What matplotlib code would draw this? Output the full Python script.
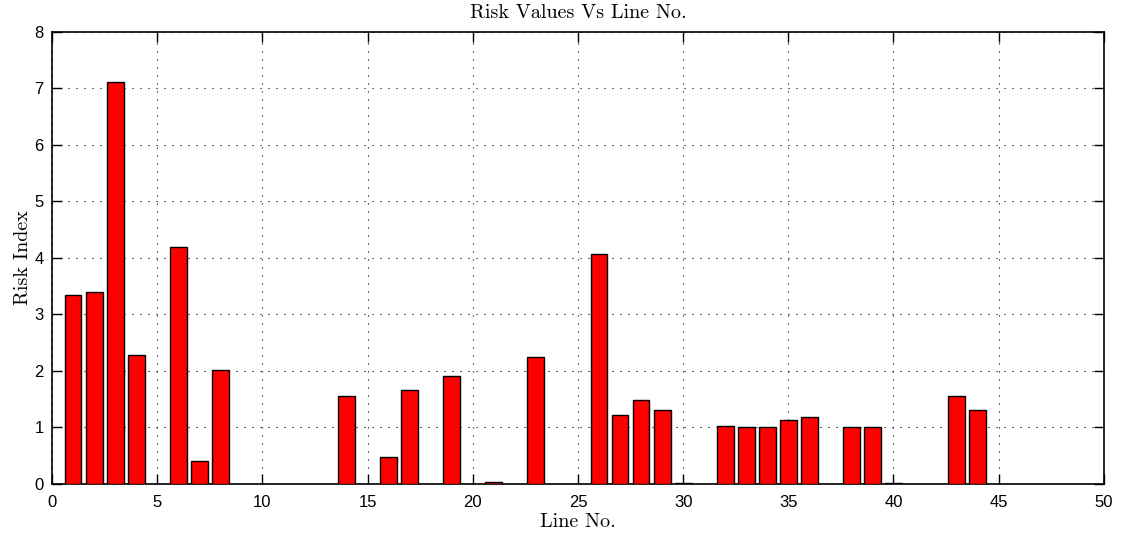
import numpy as np
import matplotlib
matplotlib.use("Agg")
import matplotlib.pyplot as plt

# line numbers and their risk index
line_no = [1, 2, 3, 4, 6, 7, 8, 14, 16, 17, 19, 21, 23,
           26, 27, 28, 29, 30, 32, 33, 34, 35, 36, 38, 39, 40, 43, 44]
risk = [3.35, 3.39, 7.11, 2.28, 4.19, 0.41, 2.01, 1.56, 0.48, 1.66, 1.91, 0.035, 2.25,
        4.07, 1.22, 1.48, 1.31, 0.01, 1.02, 1.005, 1.01, 1.14, 1.19, 1.01, 1.005, 0.01, 1.56, 1.31]

x_ticks = np.arange(0, 51, 5)
y_ticks = np.arange(0, 9, 1)

plt.rcParams["font.family"] = ["Liberation Sans", "DejaVu Sans"]

fig = plt.figure(figsize=(11.31, 5.33), dpi=100)
ax = fig.add_axes([0.046, 0.092, 0.930, 0.848])

ax.bar(line_no, risk, width=0.8, color="#ff0000", edgecolor="black", linewidth=1.0, zorder=3)

ax.set_xlim(0, 50)
ax.set_ylim(0, 8)
ax.set_xticks(x_ticks)
ax.set_yticks(y_ticks)
ax.grid(True, linestyle=(0, (1, 6.2)), color="black", linewidth=0.8, zorder=0)
ax.tick_params(direction="in", length=7, width=1, top=True, right=True, labelsize=12)
ax.tick_params(axis="x", pad=8)
ax.tick_params(axis="y", pad=6)
for s in ax.spines.values():
    s.set_linewidth(1.2)

ax.set_title("Risk Values Vs Line No.", fontfamily="cmr10", fontsize=14.5, pad=10)
ax.set_xlabel("Line No.", fontfamily="cmr10", fontsize=14.5, labelpad=2)
ax.set_ylabel("Risk Index", fontfamily="cmr10", fontsize=14.5, labelpad=2)

fig.savefig("out.png", dpi=100)
